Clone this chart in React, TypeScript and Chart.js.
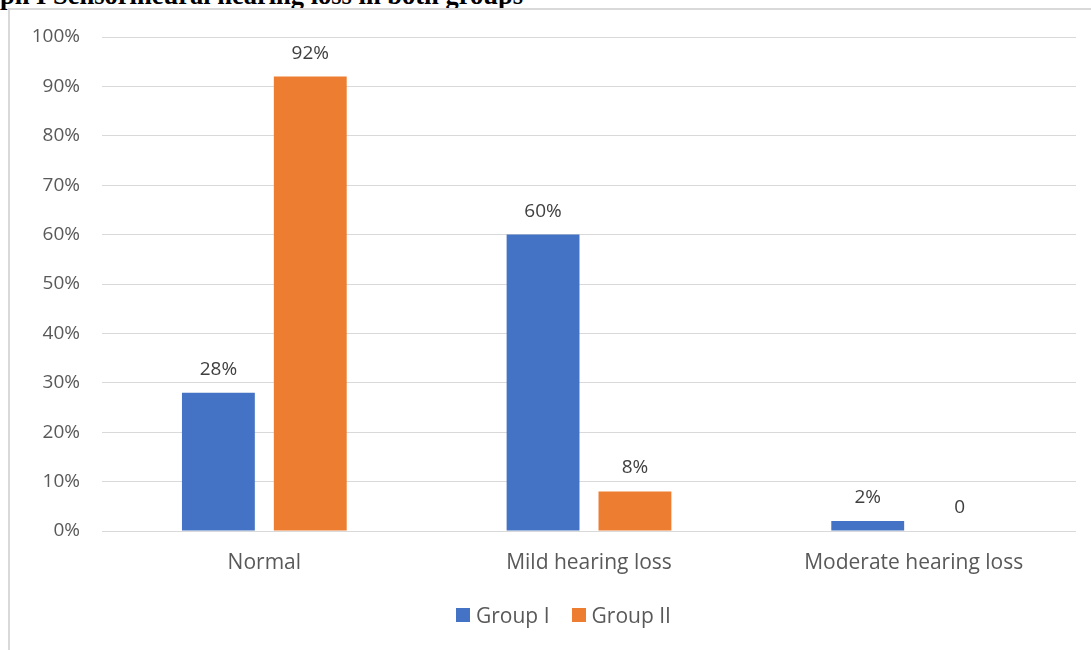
import React, { useEffect, useRef } from "react";
import { Chart, registerables } from "chart.js";

Chart.register(...registerables);

const categories = ["Normal", "Mild hearing loss", "Moderate hearing loss"];
const groupI = [28, 60, 2];
const groupII = [92, 8, 0];
const seriesNames = ["Group I", "Group II"];
const colors = ["#4472C4", "#ED7D31"];
const FONT = "'Open Sans', sans-serif";

const labelPlugin = {
  id: "valueLabels",
  afterDatasetsDraw(chart: any) {
    const ctx = chart.ctx;
    ctx.save();
    ctx.font = `19px ${FONT}`;
    ctx.fillStyle = "#404040";
    ctx.textAlign = "center";
    ctx.textBaseline = "alphabetic";
    chart.data.datasets.forEach((ds: any, i: number) => {
      const meta = chart.getDatasetMeta(i);
      meta.data.forEach((bar: any, j: number) => {
        const v = ds.data[j];
        const txt = v === 0 ? "0" : `${v}%`;
        ctx.fillText(txt, bar.x, bar.y - 18);
      });
    });
    ctx.restore();
  },
};

export default function App() {
  const ref = useRef<HTMLCanvasElement>(null);
  useEffect(() => {
    const chart = new Chart(ref.current!, {
      type: "bar",
      data: {
        labels: categories,
        datasets: [
          { label: seriesNames[0], data: groupI, backgroundColor: colors[0] },
          { label: seriesNames[1], data: groupII, backgroundColor: colors[1] },
        ],
      },
      options: {
        animation: false,
        responsive: false,
        maintainAspectRatio: false,
        layout: { padding: { top: 37, right: 15, left: 0, bottom: 0 } },
        datasets: { bar: { categoryPercentage: 0.566, barPercentage: 0.793 } },
        plugins: { legend: { display: false }, tooltip: { enabled: false } },
        scales: {
          x: {
            grid: { display: false, drawTicks: false },
            border: { display: false },
            ticks: { color: "#595959", font: { family: FONT, size: 21 }, padding: 19 },
            afterFit: (s: any) => {
              s.height = 119;
            },
          },
          y: {
            min: 0,
            max: 100,
            grid: { color: "#D9D9D9", lineWidth: 1, drawTicks: false },
            border: { display: false },
            ticks: {
              stepSize: 10,
              color: "#595959",
              font: { family: FONT, size: 19 },
              padding: 22,
              callback: (v: any) => `${v}%`,
            },
            afterFit: (s: any) => {
              s.width = 102;
            },
          },
        },
      },
      plugins: [labelPlugin],
    });
    return () => chart.destroy();
  }, []);

  return (
    <div style={{ position: "fixed", left: 0, top: 0, width: 1091, height: 650, overflow: "hidden", background: "#fff" }}>
      <div
        style={{
          position: "absolute",
          left: 0,
          top: -18,
          fontFamily: "'Liberation Serif', serif",
          fontWeight: "bold",
          fontSize: 26.5,
          lineHeight: "26.5px",
          whiteSpace: "nowrap",
          color: "#000",
        }}
      >
        ph I Sensorineural hearing loss in both groups
      </div>
      <div
        style={{
          position: "absolute",
          left: 8,
          top: 8,
          width: 1091,
          height: 660,
          borderLeft: "2px solid #D9D9D9",
          borderTop: "2px solid #D9D9D9",
          boxSizing: "border-box",
        }}
      />
      <canvas ref={ref} width={1091} height={650} style={{ position: "absolute", left: 0, top: 0 }} />
      <div
        style={{
          position: "absolute",
          left: 456,
          top: 601,
          display: "flex",
          alignItems: "center",
          fontFamily: FONT,
          fontSize: 21,
          color: "#595959",
          whiteSpace: "nowrap",
        }}
      >
        <span style={{ display: "inline-block", width: 14, height: 14, background: colors[0], marginRight: 6 }} />
        <span style={{ marginRight: 22 }}>{seriesNames[0]}</span>
        <span style={{ display: "inline-block", width: 14, height: 14, background: colors[1], marginRight: 6 }} />
        <span>{seriesNames[1]}</span>
      </div>
    </div>
  );
}
